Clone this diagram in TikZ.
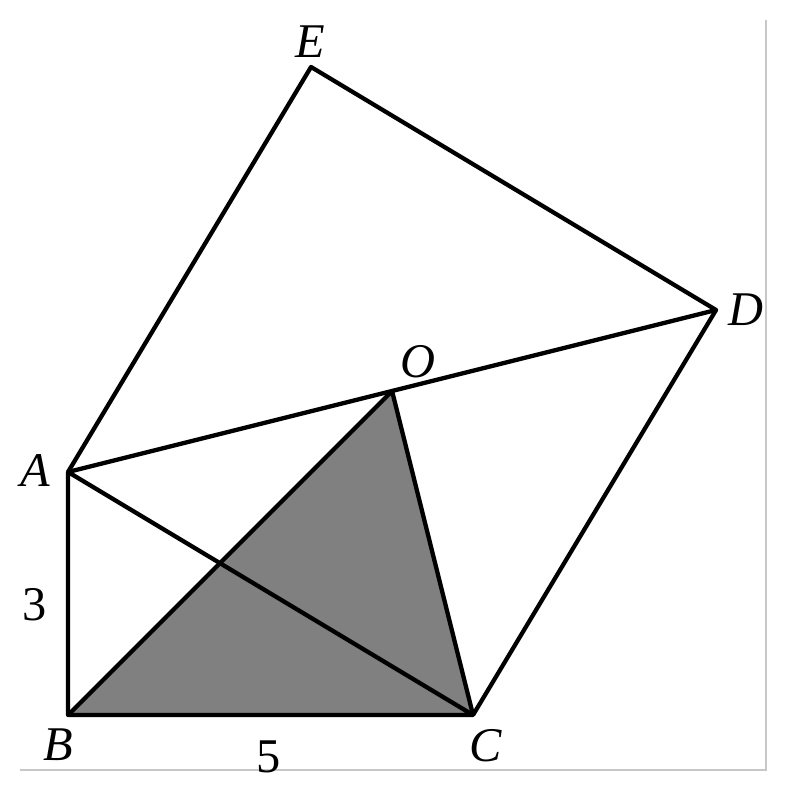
\documentclass[tikz,border=0pt]{standalone}
\usepackage{fontspec}
\setmainfont{Liberation Serif}
\usetikzlibrary{calc,positioning}
\tikzstyle{edge}=[draw=black,line width=1.5pt,line join=round]
\tikzstyle{vertex}=[inner sep=0pt,font=\fontsize{17}{20}\selectfont\itshape]
\tikzstyle{length}=[inner sep=0pt,font=\fontsize{17}{20}\selectfont]
\tikzstyle{frame}=[draw=black!22,line width=0.8pt]

\begin{document}
\begin{tikzpicture}
    \useasboundingbox (-0.84,-1.0) rectangle (8.877,8.827);

    \coordinate (B) at (0,0);
    \coordinate (C) at (5,0);
    \coordinate (A) at (0,3);
    \coordinate (D) at (8,5);
    \coordinate (E) at (3,8);
    \coordinate (O) at (4,4);

    \coordinate (f1) at (-0.59,-0.68);
    \coordinate (f2) at (8.62,-0.68);
    \coordinate (f3) at (8.62,8.58);
    \draw[frame] (f1) -- (f2) -- (f3);

    \fill[black!50] (B) -- (O) -- (C) -- cycle;

    \draw[edge] (A) -- (B) -- (C) -- cycle;
    \draw[edge] (A) -- (E) -- (D) -- (C);
    \draw[edge] (A) -- (D);
    \draw[edge] (B) -- (O) -- (C);

    \node[vertex] (lE) at (2.99,8.31) {E};
    \node[vertex] (lD) at (8.37,5.0) {D};
    \node[vertex] (lO) at (4.32,4.36) {O};
    \node[vertex] (lA) at (-0.40,3.02) {A};
    \node[vertex] (lB) at (-0.12,-0.37) {B};
    \node[vertex] (lC) at (5.16,-0.38) {C};
    \node[length] (lAB) at (-0.41,1.36) {3};
    \node[length] (lBC) at (2.47,-0.52) {5};
  \end{tikzpicture}
\end{document}
